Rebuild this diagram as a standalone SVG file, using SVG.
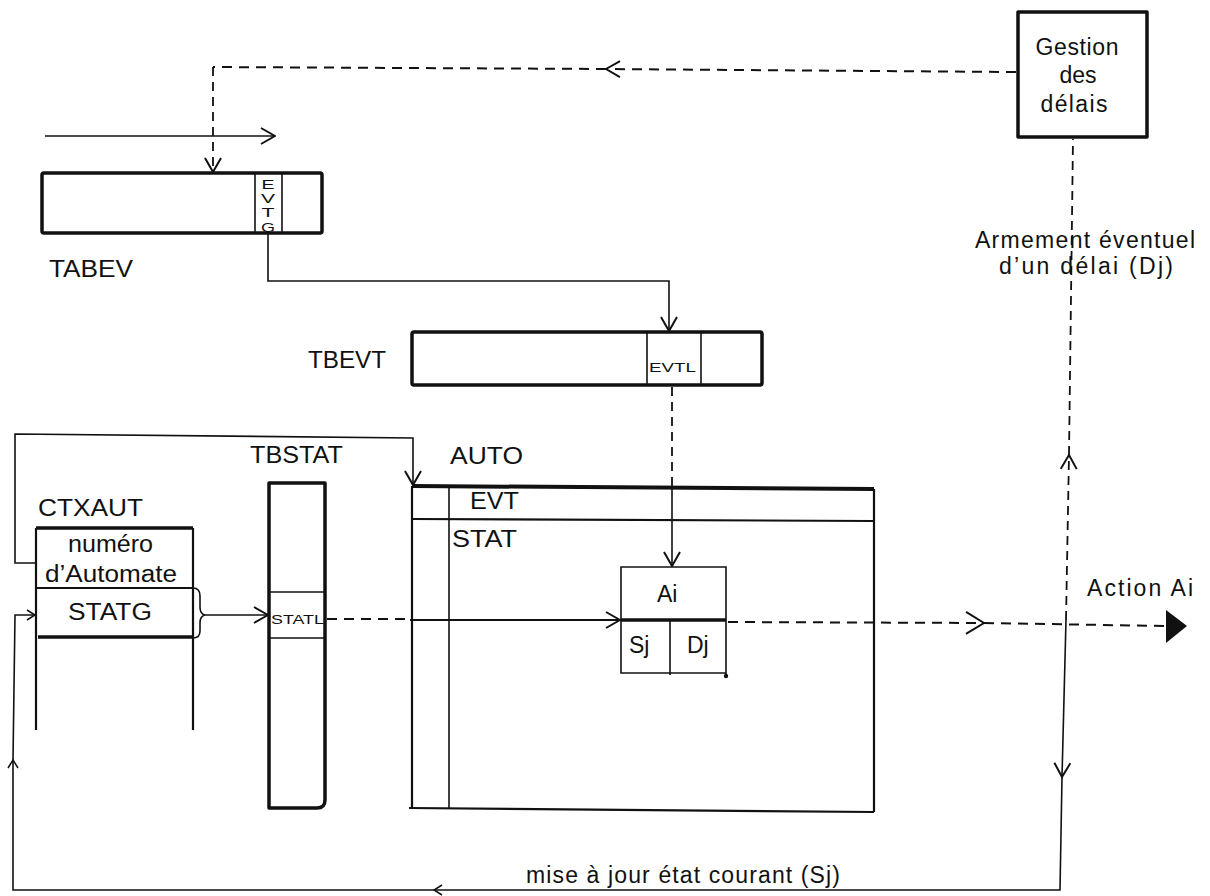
<svg xmlns="http://www.w3.org/2000/svg" width="1210" height="896" viewBox="0 0 1210 896">
<style>
  .t{font-family:"Liberation Sans",Arial,sans-serif;font-size:23px;fill:#111}
  .h{font-family:"Liberation Sans",Arial,sans-serif;font-size:23px;fill:#111}
  .s{font-family:"Liberation Sans",Arial,sans-serif;font-size:13px;fill:#111}
  .box{fill:none;stroke:#111;stroke-width:3.5;stroke-linejoin:round}
  .thin{fill:none;stroke:#111;stroke-width:1.6}
  .mid{fill:none;stroke:#111;stroke-width:2.2}
  .thick{fill:none;stroke:#111;stroke-width:3.5}
  .ln{fill:none;stroke:#111;stroke-width:1.6}
  .dash{fill:none;stroke:#111;stroke-width:2;stroke-dasharray:10 7}
  .vdash{fill:none;stroke:#111;stroke-width:1.8;stroke-dasharray:9 6}
</style>
<defs>
  <marker id="chev" viewBox="0 0 16 18" refX="15" refY="9" markerWidth="16" markerHeight="18" markerUnits="userSpaceOnUse" orient="auto">
    <path d="M1,1 L15,9 L1,17" fill="none" stroke="#111" stroke-width="2"/>
  </marker>
  <marker id="chevL" viewBox="0 0 20 24" refX="19" refY="12" markerWidth="20" markerHeight="24" markerUnits="userSpaceOnUse" orient="auto">
    <path d="M1,1 L19,12 L1,23" fill="none" stroke="#111" stroke-width="2"/>
  </marker>
  <marker id="chevS" viewBox="0 0 10 12" refX="9" refY="6" markerWidth="10" markerHeight="12" markerUnits="userSpaceOnUse" orient="auto">
    <path d="M1,1 L9,6 L1,11" fill="none" stroke="#111" stroke-width="1.5"/>
  </marker>
</defs>

<g id="connectors">
  <path class="dash" d="M1016,72 L606,69" marker-end="url(#chev)"/>
  <path class="dash" d="M606,69 L213,67"/>
  <path class="vdash" d="M213,67 L213,172" marker-end="url(#chev)"/>
  <path class="ln" d="M45,136 L275,136" marker-end="url(#chev)"/>
  <path class="ln" d="M268,233 V281 H669 V331" marker-end="url(#chev)"/>
  <path class="vdash" d="M672,387 V487"/>
  <path class="ln" d="M672,487 V566" marker-end="url(#chev)"/>
  <path class="ln" d="M36,563 H15 V434 L413,438 V485" marker-end="url(#chev)"/>
  <path class="ln" d="M193,588 Q200,588 200,596 L200,607 Q200,614 205,615 Q200,616 200,623 L200,631 Q200,638 193,638"/>
  <path class="ln" d="M205,615 H268" marker-end="url(#chev)"/>
  <path class="dash" d="M327,619 H410"/>
  <path class="mid" d="M410,620 H620" marker-end="url(#chev)"/>
  <path class="dash" d="M728,622 L984,623" marker-end="url(#chevL)"/>
  <path class="dash" d="M984,623 L1166,626"/>
  <polygon points="1166,610 1187,626 1166,643" fill="#111"/>
  <path class="vdash" d="M1066,620 L1069,455" marker-end="url(#chev)"/>
  <path class="vdash" d="M1069,455 L1073,139"/>
  <path class="ln" d="M1066,620 L1062,777" marker-end="url(#chev)"/>
  <path class="ln" d="M1062,777 L1060,890 L434,890" marker-end="url(#chevS)"/>
  <path class="ln" d="M434,890 L13,890 L13,760" marker-end="url(#chevS)"/>
  <path class="ln" d="M13,760 L15,615 H35" marker-end="url(#chevS)"/>
</g>

<g id="gestion">
  <rect class="box" x="1018" y="12" width="129" height="125" fill="#fff"/>
  <text class="h" x="1077" y="55" text-anchor="middle" textLength="83">Gestion</text>
  <text class="h" x="1078" y="83" text-anchor="middle">des</text>
  <text class="h" x="1074" y="112" text-anchor="middle" textLength="67">délais</text>
</g>

<g id="tabev">
  <rect class="box" x="42" y="173" width="280" height="60" rx="2"/>
  <line class="thin" x1="255" y1="173" x2="255" y2="233"/>
  <line class="thin" x1="282" y1="173" x2="282" y2="233"/>
  <text class="s" x="268" y="189" text-anchor="middle" textLength="13" lengthAdjust="spacingAndGlyphs">E</text>
  <text class="s" x="268" y="203" text-anchor="middle" textLength="14" lengthAdjust="spacingAndGlyphs">V</text>
  <text class="s" x="268" y="217" text-anchor="middle" textLength="13" lengthAdjust="spacingAndGlyphs">T</text>
  <text class="s" x="268" y="232" text-anchor="middle" textLength="14" lengthAdjust="spacingAndGlyphs">G</text>
  <text class="t" x="49" y="277" textLength="84" lengthAdjust="spacingAndGlyphs">TABEV</text>
</g>

<g id="tbevt">
  <rect class="box" x="412" y="332" width="350" height="53" rx="2"/>
  <line class="thin" x1="647" y1="332" x2="647" y2="385"/>
  <line class="thin" x1="701" y1="332" x2="701" y2="385"/>
  <text class="s" x="649" y="372" font-size="14" textLength="47" lengthAdjust="spacingAndGlyphs">EVTL</text>
  <text class="t" x="308" y="368" textLength="78" lengthAdjust="spacingAndGlyphs">TBEVT</text>
</g>

<g id="ctxaut">
  <text class="t" x="38" y="516" textLength="105" lengthAdjust="spacingAndGlyphs">CTXAUT</text>
  <line class="thick" x1="36" y1="528" x2="193" y2="528"/>
  <line class="mid" x1="36" y1="528" x2="36" y2="730"/>
  <line class="mid" x1="193" y1="528" x2="193" y2="730"/>
  <line class="mid" x1="36" y1="588" x2="193" y2="588"/>
  <line class="thick" x1="38" y1="637" x2="193" y2="637"/>
  <text class="t" x="68" y="552" textLength="85" lengthAdjust="spacingAndGlyphs">numéro</text>
  <text class="t" x="45" y="582" textLength="132" lengthAdjust="spacingAndGlyphs">d’Automate</text>
  <text class="t" x="68" y="620" textLength="84" lengthAdjust="spacingAndGlyphs">STATG</text>
</g>

<g id="tbstat">
  <text class="t" x="250" y="463" textLength="93" lengthAdjust="spacingAndGlyphs">TBSTAT</text>
  <path class="box" d="M269,808 V483 H325 V800 Q325,808 317,808 Z"/>
  <line class="thin" x1="269" y1="592" x2="325" y2="592"/>
  <line class="thin" x1="269" y1="638" x2="325" y2="638"/>
  <text class="s" x="271" y="624" font-size="12" textLength="53" lengthAdjust="spacingAndGlyphs">STATL</text>
</g>

<g id="auto">
  <text class="t" x="450" y="464" textLength="73" lengthAdjust="spacingAndGlyphs">AUTO</text>
  <path d="M412,486 L874,489" fill="none" stroke="#111" stroke-width="4"/>
  <line class="mid" x1="412" y1="486" x2="412" y2="808"/>
  <line class="ln" x1="449" y1="486" x2="449" y2="808"/>
  <path class="mid" d="M412,519 L874,521"/>
  <line class="mid" x1="874" y1="489" x2="874" y2="812"/>
  <path class="mid" d="M409,808 L874,812"/>
  <text class="t" x="470" y="509" textLength="49" lengthAdjust="spacingAndGlyphs">EVT</text>
  <text class="t" x="452" y="547" textLength="65" lengthAdjust="spacingAndGlyphs">STAT</text>
</g>

<g id="action-cell">
  <path class="ln" d="M621,620 V567 H726 V676"/>
  <path class="ln" d="M621,620 V673 H726"/>
  <line class="thick" x1="621" y1="620" x2="726" y2="620"/>
  <line class="ln" x1="670" y1="620" x2="670" y2="675"/>
  <circle cx="726" cy="676" r="2.2" fill="#111"/>
  <text class="h" x="657" y="602" font-size="21">Ai</text>
  <text class="h" x="629" y="653" font-size="21">Sj</text>
  <text class="h" x="687" y="653" font-size="21">Dj</text>
</g>

<g id="labels">
  <text class="h" x="975" y="248" font-size="22" textLength="220">Armement éventuel</text>
  <text class="h" x="999" y="274" font-size="22" textLength="174">d’un délai (Dj)</text>
  <text class="h" x="1087" y="596" textLength="106">Action Ai</text>
  <text class="h" x="526" y="883" textLength="314">mise à jour état courant (Sj)</text>
</g>
</svg>
